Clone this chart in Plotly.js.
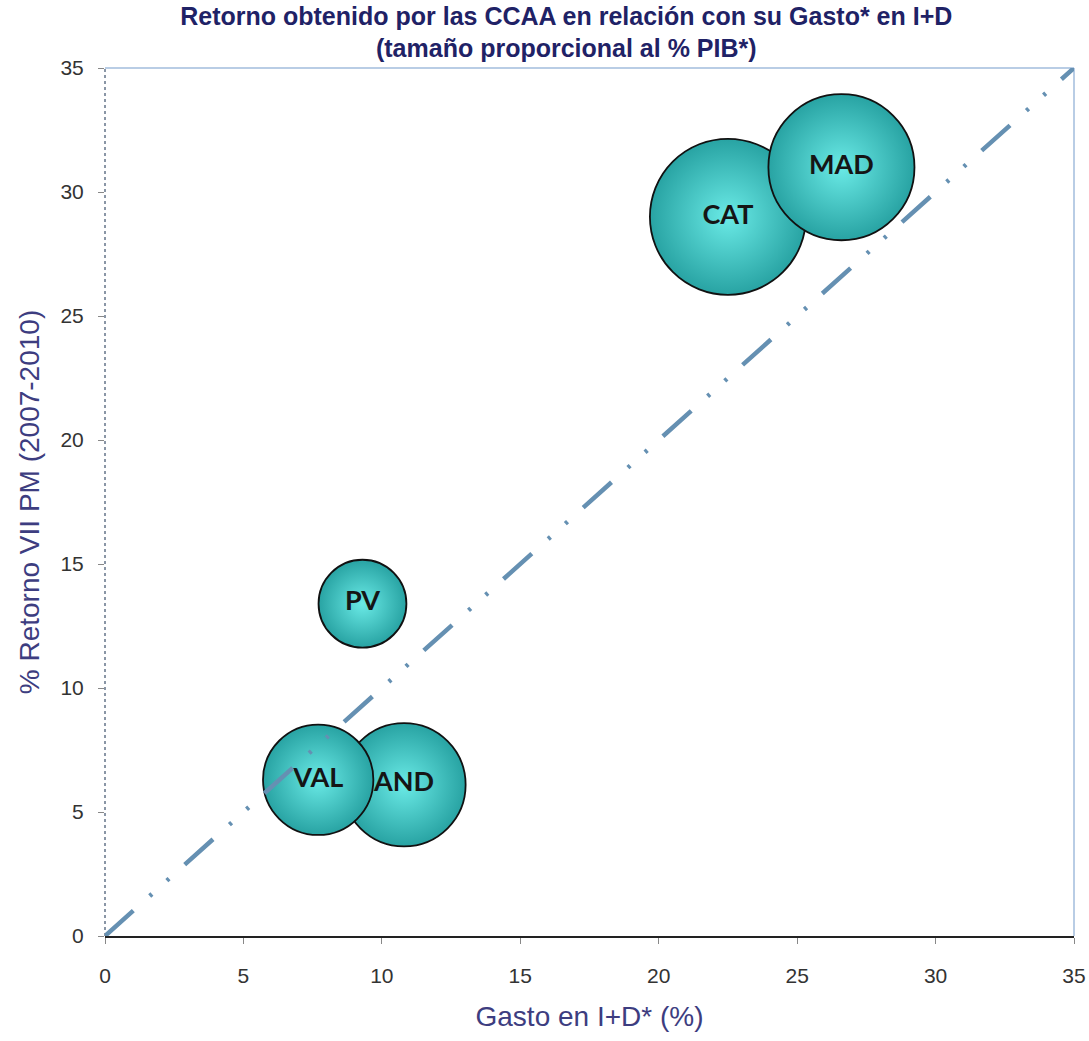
<!DOCTYPE html>
<html>
<head>
<meta charset="utf-8">
<script src="https://cdn.plot.ly/plotly-3.0.1.min.js"></script>
<style>html,body{margin:0;padding:0;background:#fff;}#chart{width:1089px;height:1041px;}</style>
</head>
<body>
<div id="chart"></div>
<script>
// Data
const regions = ["CAT", "MAD", "AND", "VAL", "PV"];
const gastoID = [22.5, 26.6, 10.8, 7.7, 9.3];      // Gasto en I+D* (%)
const retorno = [29.0, 31.0, 6.1, 6.3, 13.4];      // % Retorno VII PM (2007-2010)
const pib = [18.6, 16.3, 11.6, 9.3, 5.9];          // % PIB* (bubble size)
const diagonal = [0, 35];
const xTicks = [0, 5, 10, 15, 20, 25, 30, 35];
const yTicks = [0, 5, 10, 15, 20, 25, 30, 35];

const bubbles = {
  type: "scatter",
  mode: "markers+text",
  x: gastoID,
  y: retorno,
  text: regions,
  textposition: "middle center",
  textfont: {family: "Lato, 'Open Sans', sans-serif", size: 27, color: "#151515", weight: 700},
  cliponaxis: false,
  hoverinfo: "x+y+text",
  marker: {
    size: pib,
    sizemode: "area",
    sizeref: 0.001528,
    color: "#28a3a3",
    gradient: {type: "radial", color: "#6aeae6"},
    line: {color: "#111111", width: 1.8},
    opacity: 1
  },
  showlegend: false
};

const line = {
  type: "scatter",
  mode: "lines",
  x: diagonal,
  y: diagonal,
  line: {color: "#6590b2", width: 4.5, dash: "38px,22px,3px,20px,3px,21px"},
  hoverinfo: "skip",
  showlegend: false
};

const layout = {
  width: 1089,
  height: 1041,
  margin: {l: 105, r: 15, t: 68, b: 105},
  paper_bgcolor: "#ffffff",
  plot_bgcolor: "#ffffff",
  font: {family: "'Liberation Sans', Arial, sans-serif", color: "#333333"},
  title: {
    text: "<b>Retorno obtenido por las CCAA en relación con su Gasto* en I+D<br>(tamaño proporcional al % PIB*)</b>",
    font: {family: "'Liberation Sans', Arial, sans-serif", size: 25, color: "#1f2266"},
    x: 0.52, xanchor: "center",
    y: 0.976, yanchor: "middle"
  },
  xaxis: {
    range: [0, 35],
    tickvals: xTicks,
    ticktext: xTicks.map(String),
    showgrid: false,
    zeroline: false,
    showline: true,
    linecolor: "#222222",
    linewidth: 2,
    ticks: "outside",
    ticklen: 6,
    tickcolor: "#888888",
    ticklabelstandoff: 14,
    tickfont: {size: 21, color: "#333333"},
    title: {text: "Gasto en I+D* (%)", font: {size: 28, color: "#3d3d80"}, standoff: 20},
    fixedrange: true
  },
  yaxis: {
    range: [0, 35],
    tickvals: yTicks,
    ticktext: yTicks.map(String),
    showgrid: false,
    zeroline: false,
    showline: false,
    ticks: "outside",
    ticklen: 6,
    tickcolor: "#888888",
    ticklabelstandoff: 10,
    tickfont: {size: 21, color: "#333333"},
    title: {text: "% Retorno VII PM (2007-2010)", font: {size: 28, color: "#3d3d80"}, standoff: 12},
    fixedrange: true
  },
  shapes: [
    {type: "line", xref: "paper", yref: "paper", x0: 0, x1: 0, y0: 0, y1: 1,
     line: {color: "#8a96a6", width: 2, dash: "dot"}, layer: "below"},
    {type: "line", xref: "paper", yref: "paper", x0: 0, x1: 1, y0: 1, y1: 1,
     line: {color: "#b9cde5", width: 2}, layer: "below"},
    {type: "line", xref: "paper", yref: "paper", x0: 1, x1: 1, y0: 0, y1: 1,
     line: {color: "#b9cde5", width: 2}, layer: "below"}
  ]
};

Plotly.newPlot("chart", [bubbles, line], layout, {displayModeBar: false, staticPlot: true});
</script>
</body>
</html>
